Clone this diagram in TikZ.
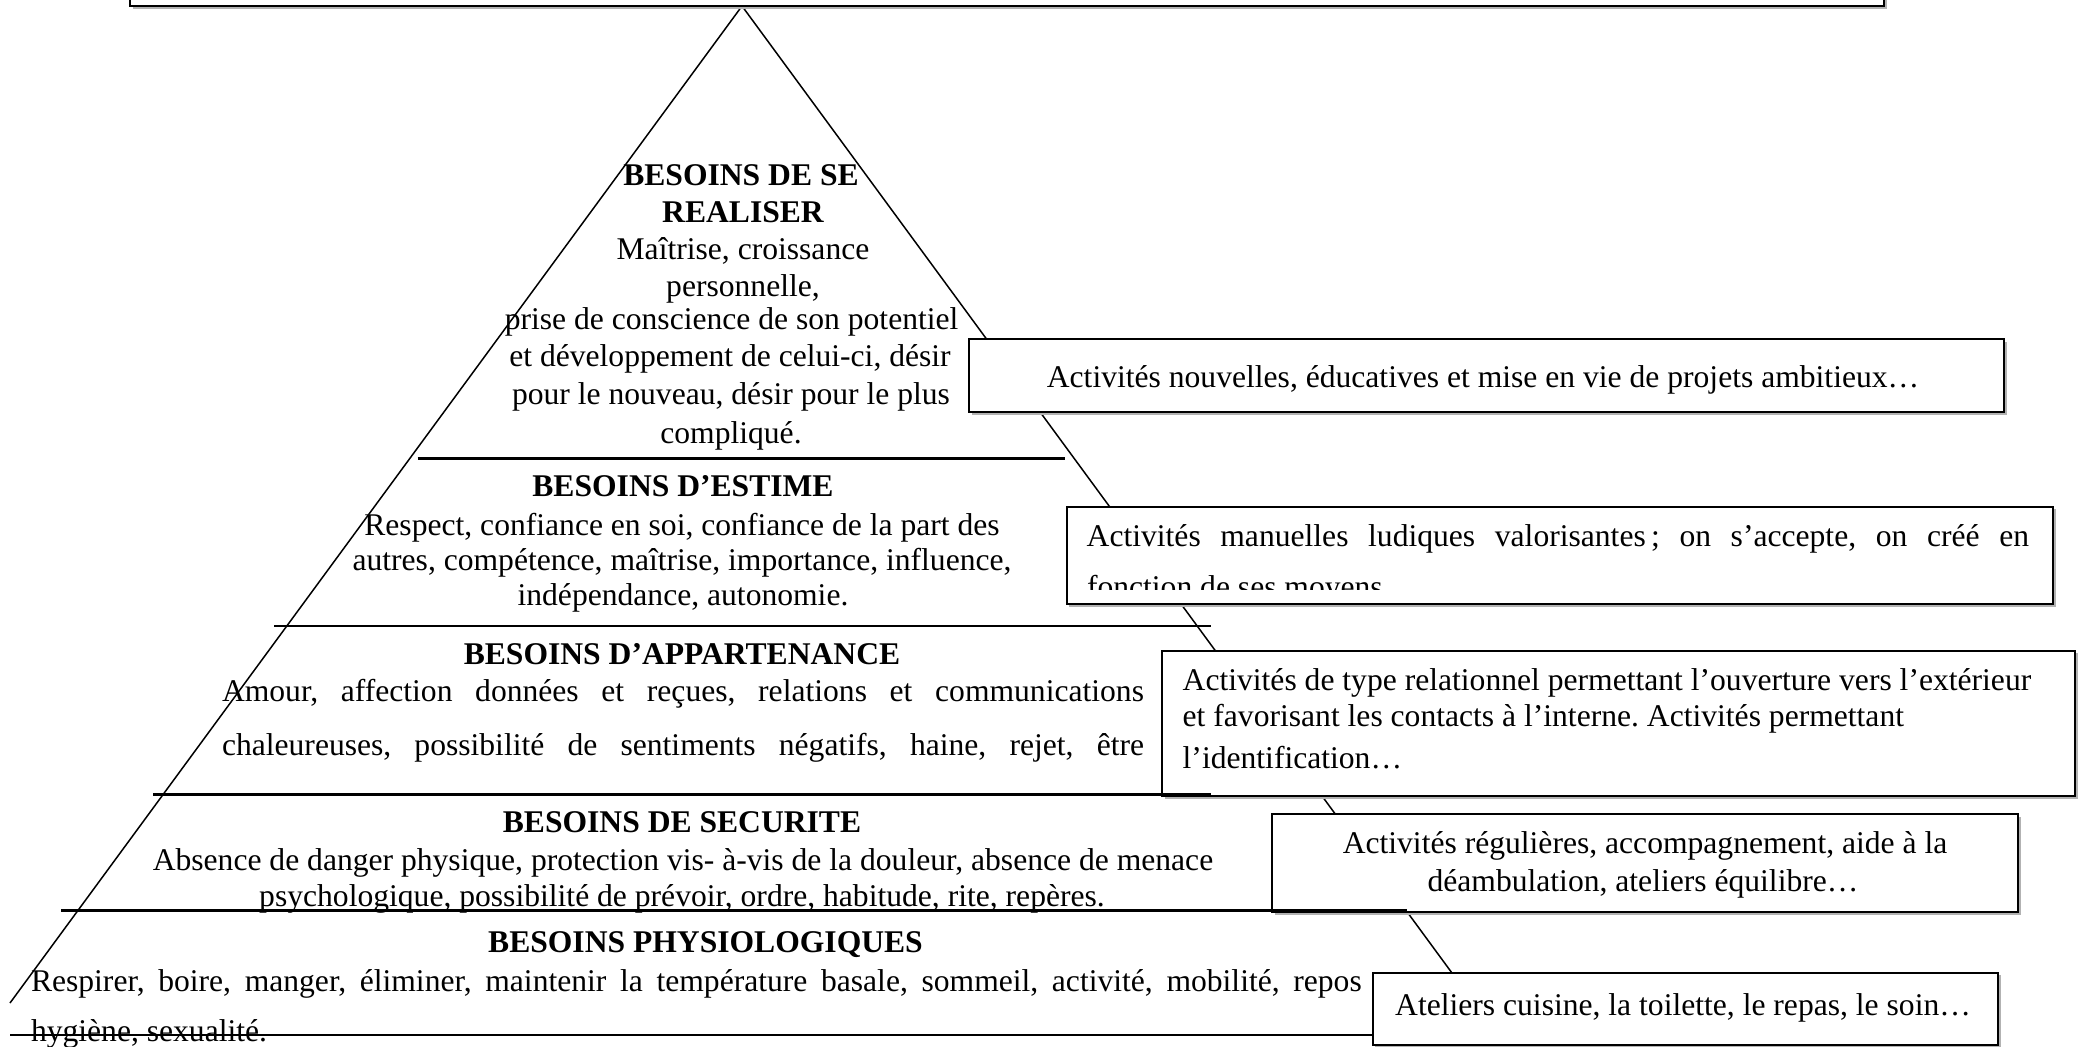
\documentclass[tikz,border=0pt]{standalone}
\usepackage{fontspec}
\setmainfont{Liberation Serif}
\usetikzlibrary{shadows}
\frenchspacing
\begin{document}
\begin{tikzpicture}[x=1pt,y=-1pt,
  every node/.style={inner sep=0pt, outer sep=0pt},
  txt/.style={anchor=base, font=\fontsize{31.6}{37}\selectfont},
  txtl/.style={anchor=base west, font=\fontsize{31.6}{37}\selectfont},
  head/.style={anchor=base, font=\fontsize{31.6}{37}\selectfont\bfseries},
  edgeline/.style={line width=1.5pt},
  levelline/.style={line width=2.4pt},
  abox/.style={draw, line width=2pt, fill=white, rectangle, anchor=north west,
    drop shadow={shadow xshift=2.5pt, shadow yshift=-2.5pt, fill=gray!60, opacity=1}},
]
\useasboundingbox (0,0) rectangle (2078,1047);

% pyramid edges
\coordinate (apex) at (742,6);
\coordinate (bl) at (10,1003);
\coordinate (br) at (1474,1003);
\draw[edgeline] (bl) -- (apex) -- (br);

% top box
\node[abox, anchor=south west, minimum width=1754pt, minimum height=60pt] (topbox) at (130,6) {};

% right boxes
\node[abox, minimum width=1034.6pt, minimum height=73.3pt] (bnouv) at (969.4,339) {};
\node[abox, minimum width=986.5pt, minimum height=97.3pt] (bmanu) at (1066.5,506.7) {};
\node[abox, minimum width=912.6pt, minimum height=145.3pt] (brel) at (1162.4,650.7) {};
\node[abox, minimum width=746.3pt, minimum height=98pt] (breg) at (1272,814.3) {};
\node[abox, minimum width=625.7pt, minimum height=72pt] (bat) at (1372.6,972.7) {};

% level lines
\draw[levelline] (417.5,458.5) -- (1065,458.5);
\draw[levelline] (274,626) -- (1211,626);
\draw[levelline] (153,794.3) -- (1211,794.3);
\draw[levelline] (61,910.5) -- (1407,910.5);
\draw[levelline] (10,1035) -- (1373,1035);

% level 5
\node[head] (h5) at (741,185) {BESOINS DE SE};
\node[head] (h5b) at (743,222.7) {REALISER};
\node[txt] (t5a) at (743,259.3) {Maîtrise, croissance};
\node[txt] (t5b) at (743,296) {personnelle,};
\node[txt] (t5c) at (731.6,329.3) {prise de conscience de son potentiel};
\node[txt] (t5d) at (730,366.7) {et développement de celui-ci, désir};
\node[txt] (t5e) at (731,404) {pour le nouveau, désir pour le plus};
\node[txt] (t5f) at (731,443.3) {compliqué.};

% level 4
\node[head] (h4) at (683,496.7) {BESOINS D’ESTIME};
\node[txt] (t4a) at (682,535) {Respect, confiance en soi, confiance de la part des};
\node[txt] (t4b) at (682,570) {autres, compétence, maîtrise, importance, influence,};
\node[txt] (t4c) at (683,605) {indépendance, autonomie.};

% level 3
\node[head] (h3) at (682,664) {BESOINS D’APPARTENANCE};
\node[txtl] (t3a) at (222,701.7) {\makebox[922pt][s]{Amour, affection données et reçues, relations et communications}};
\node[txtl] (t3b) at (222,755) {\makebox[922pt][s]{chaleureuses, possibilité de sentiments négatifs, haine, rejet, être}};

% level 2
\node[head] (h2) at (682,832.7) {BESOINS DE SECURITE};
\node[txt] (t2a) at (683,870) {Absence de danger physique, protection vis- à-vis de la douleur, absence de menace};
\node[txt] (t2b) at (682,906) {psychologique, possibilité de prévoir, ordre, habitude, rite, repères.};

% level 1
\node[head] (h1) at (705.5,952.3) {BESOINS PHYSIOLOGIQUES};
\node[txtl] (t1a) at (31,991.7) {\makebox[1330.6pt][s]{Respirer, boire, manger, éliminer, maintenir la température basale, sommeil, activité, mobilité, repos}};
\node[txtl] (t1b) at (31,1041.7) {hygiène, sexualité.};

% box texts
\node[txt] (n1) at (1483,387.3) {Activités nouvelles, éducatives et mise en vie de projets ambitieux…};
\node[txtl] (m1) at (1086.7,546) {\makebox[942.3pt][s]{Activités manuelles ludiques valorisantes\,; on s’accepte, on créé en}};
\begin{scope}
  \clip (1068,508) rectangle (2051,589.5);
  \node[txtl] (m2) at (1087,597) {fonction de ses moyens};
\end{scope}
\node[txtl] (r1) at (1182.7,690) {Activités de type relationnel permettant l’ouverture vers l’extérieur};
\node[txtl] (r2) at (1182.7,726.7) {et favorisant les contacts à l’interne. Activités permettant};
\node[txtl] (r3) at (1182.7,768.3) {l’identification…};
\node[txt] (g1) at (1645,853.3) {Activités régulières, accompagnement, aide à la};
\node[txt] (g2) at (1643,891.7) {déambulation, ateliers équilibre…};
\node[txt] (a1) at (1683,1015) {Ateliers cuisine, la toilette, le repas, le soin…};
\end{tikzpicture}
\end{document}
